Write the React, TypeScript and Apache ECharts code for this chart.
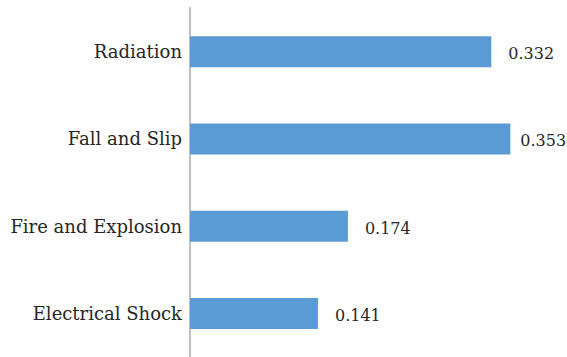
import React, { useEffect, useRef } from "react";
import * as echarts from "echarts";

const categories = ["Electrical Shock", "Fire and Explosion", "Fall and Slip", "Radiation"];
const values = [0.141, 0.174, 0.353, 0.332];
const labelDistances = [17, 17, 10, 17];

export default function App() {
  const ref = useRef<HTMLDivElement>(null);
  useEffect(() => {
    document.body.style.margin = "0";
    const chart = echarts.init(ref.current!, undefined, { renderer: "svg" });
    const font = "DejaVu Serif";
    chart.setOption({
      animation: false,
      grid: { left: 190, right: 14, top: 8, bottom: 0, containLabel: false },
      xAxis: {
        type: "value",
        min: 0,
        max: 0.4,
        show: false,
      },
      yAxis: {
        type: "category",
        data: categories,
        axisLine: { show: true, lineStyle: { color: "#BFBFBF", width: 2 } },
        axisTick: { show: false },
        axisLabel: { color: "#262626", fontFamily: font, fontSize: 18, margin: 8 },
      },
      series: [
        {
          type: "bar",
          barWidth: 31,
          itemStyle: { color: "#5B9BD5" },
          data: values.map((v, i) => ({
            value: v,
            label: {
              show: true,
              position: "right",
              distance: labelDistances[i],
              offset: [0, 2],
              color: "#262626",
              fontFamily: font,
              fontSize: 16,
              formatter: (p: any) => p.value.toFixed(3),
            },
          })),
        },
      ],
    });
    return () => chart.dispose();
  }, []);
  return <div ref={ref} style={{ position: "absolute", left: 0, top: 0, width: 567, height: 357 }} />;
}
